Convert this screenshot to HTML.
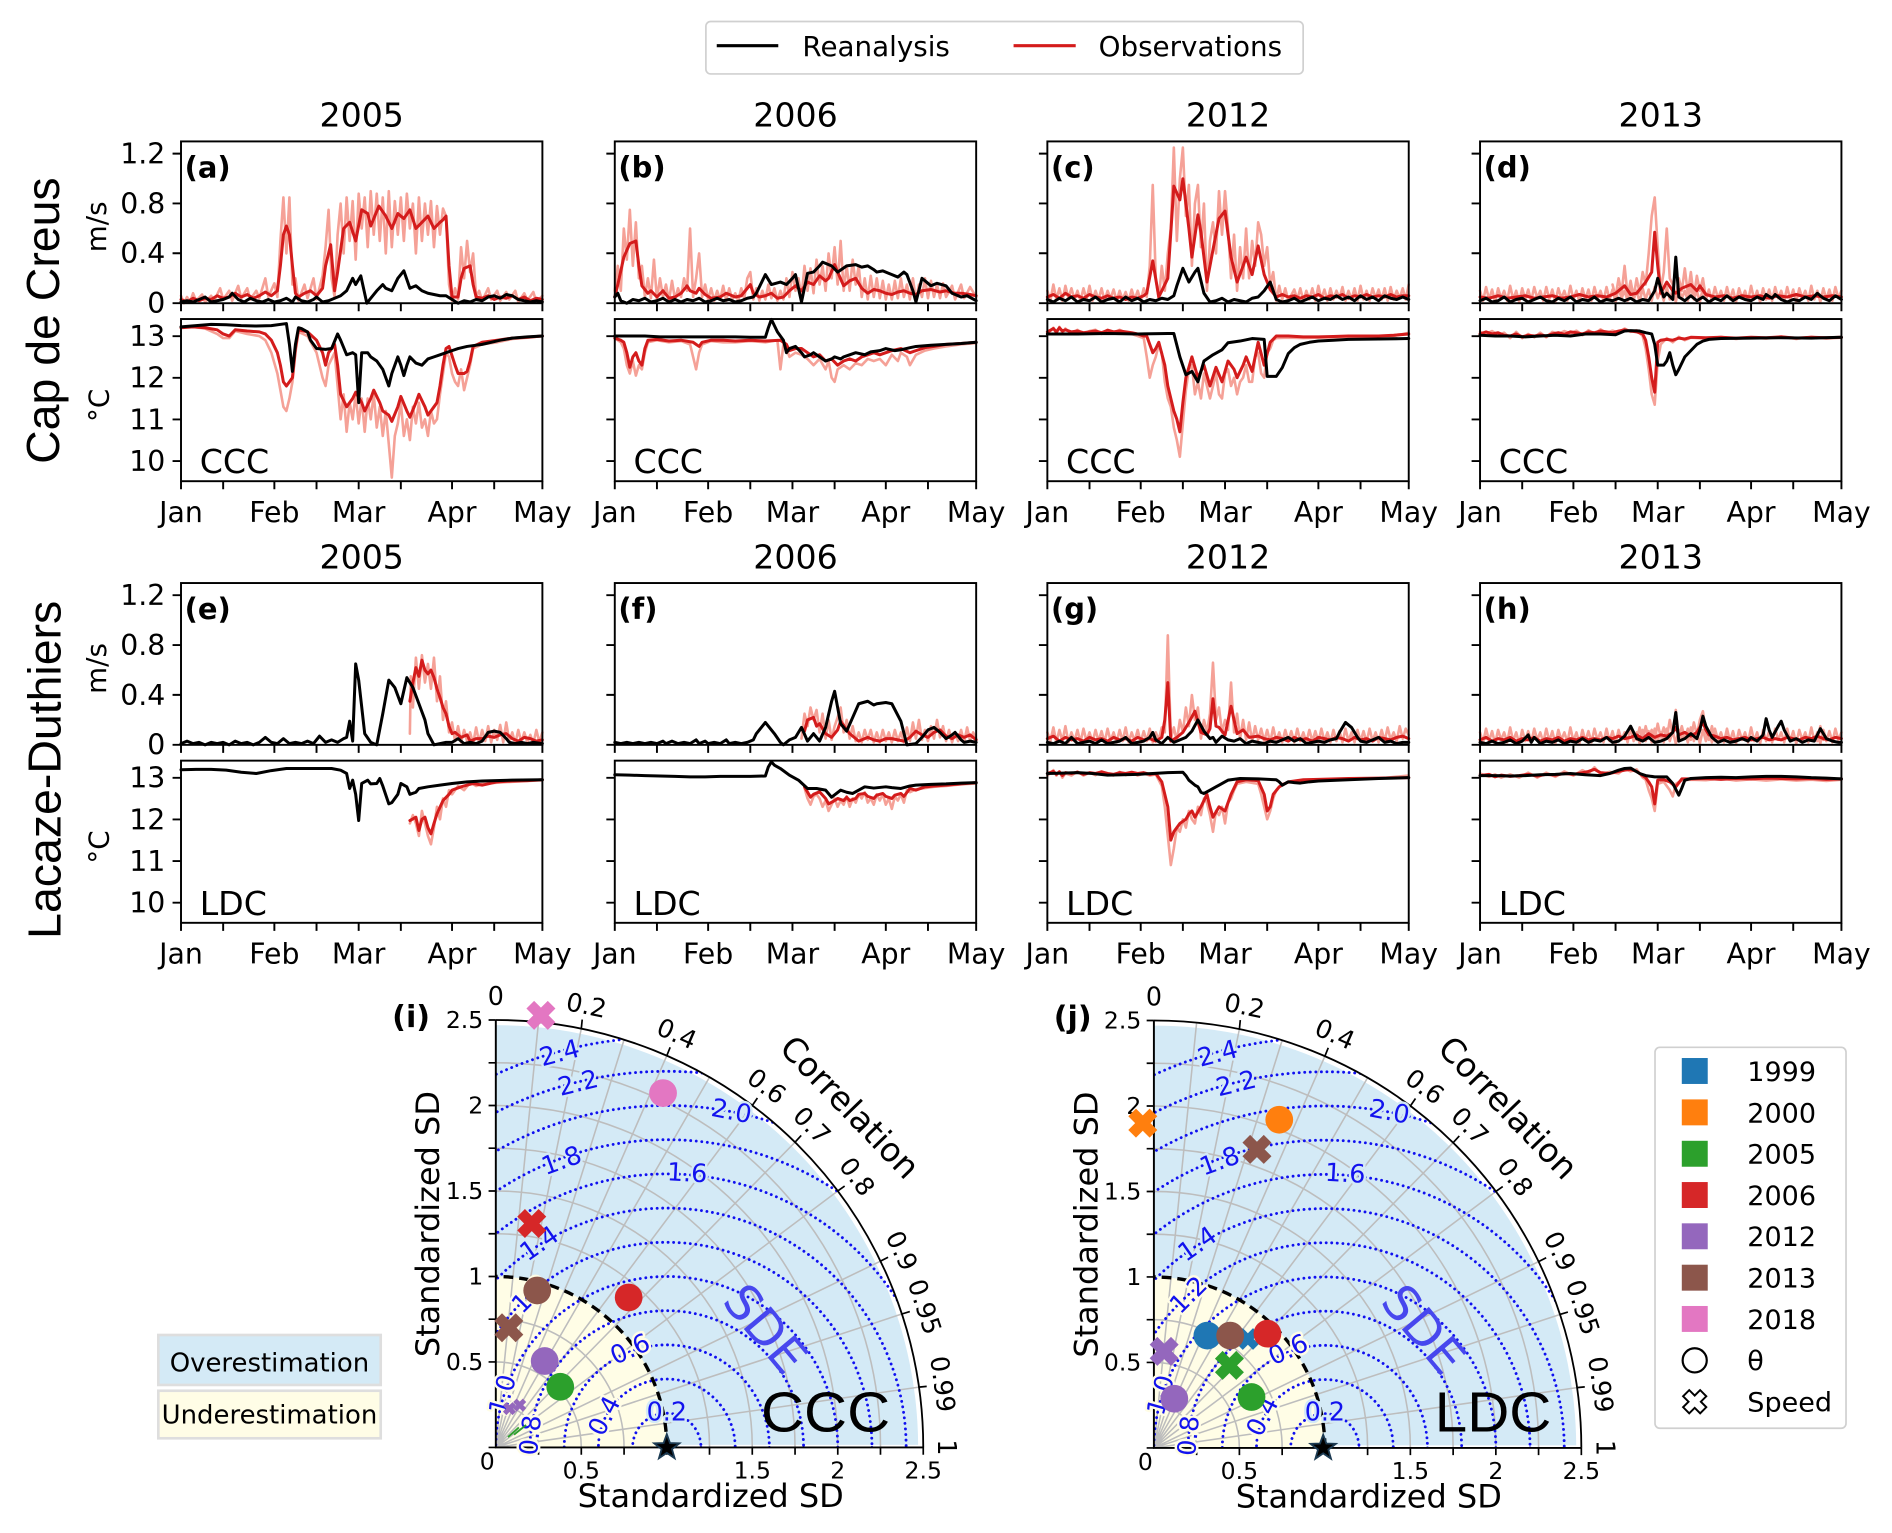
<!DOCTYPE html>
<html><head><meta charset="utf-8"><style>
html,body{margin:0;padding:0;background:#fff;width:1892px;height:1533px;overflow:hidden;position:relative}
svg{display:block;overflow:hidden;position:absolute;left:0;top:0}
polyline{fill:none;vector-effect:non-scaling-stroke;stroke-linejoin:round;stroke-linecap:round}
.lr{stroke:#f5a197;stroke-width:2.6}
.rd{stroke:#d41c1c;stroke-width:3}
.bk{stroke:#000;stroke-width:3}
text{font-family:"DejaVu Sans","Liberation Sans",sans-serif}
.hb{stroke:#d4eaf6;stroke-width:4;paint-order:stroke;stroke-linejoin:round}
.hy{stroke:#fffde6;stroke-width:4;paint-order:stroke;stroke-linejoin:round}
</style></head><body>
<svg xmlns="http://www.w3.org/2000/svg" width="1892" height="1533" viewBox="0 0 1568 1270.5">
<rect x="0" y="0" width="1568" height="1270.5" fill="#fff"/>
<defs>
<polyline id="nz" points="0,0.1 1,0.02 2,0.13 3,0.03 4,0.11 5,0.01 6,0.12 7,0.04 8,0.1 9,0.02 10,0.14 11,0.03 12,0.1 13,0.01 14,0.12 15,0.03 16,0.11 17,0.02 18,0.13 19,0.04 20,0.1 21,0.02 22,0.13 23,0.03 24,0.11 25,0.01 26,0.12 27,0.04 28,0.1 29,0.02 30,0.14 31,0.03 32,0.1 33,0.01 34,0.12 35,0.03 36,0.11 37,0.02 38,0.13 39,0.04 40,0.1 41,0.02 42,0.13 43,0.03 44,0.11 45,0.01 46,0.12 47,0.04 48,0.1 49,0.02 50,0.14 51,0.03 52,0.1 53,0.01 54,0.12 55,0.03 56,0.11 57,0.02 58,0.13 59,0.04 60,0.1 61,0.02 62,0.13 63,0.03 64,0.11 65,0.01 66,0.12 67,0.04 68,0.1 69,0.02 70,0.14 71,0.03 72,0.1 73,0.01 74,0.12 75,0.03 76,0.11 77,0.02 78,0.13 79,0.04 80,0.1 81,0.02 82,0.13 83,0.03 84,0.11 85,0.01 86,0.12 87,0.04 88,0.1 89,0.02 90,0.14 91,0.03 92,0.1 93,0.01 94,0.12 95,0.03 96,0.11 97,0.02 98,0.13 99,0.04 100,0.1 101,0.02 102,0.13 103,0.03 104,0.11 105,0.01 106,0.12 107,0.04 108,0.1 109,0.02 110,0.14 111,0.03 112,0.1 113,0.01 114,0.12 115,0.03 116,0.11 117,0.02 118,0.13 119,0.04 120,0.1"/>
<g id="tk" fill="none" stroke="#000" stroke-width="1.6">
<rect x="0" y="117.2" width="299.5" height="134.1"/>
<rect x="0" y="264.4" width="299.5" height="134.4"/>
<path d="M-7,127.3H0M-7,168.6H0M-7,209.9H0M-7,251.3H0M-7,278.6H0M-7,313.1H0M-7,347.6H0M-7,382.1H0M0,251.3V258M34.94,251.3V258M77.37,251.3V258M112.31,251.3V258M147.25,251.3V258M182.19,251.3V258M224.62,251.3V258M259.56,251.3V258M299.5,251.3V258M0,398.8V405.5M34.94,398.8V405.5M77.37,398.8V405.5M112.31,398.8V405.5M147.25,398.8V405.5M182.19,398.8V405.5M224.62,398.8V405.5M259.56,398.8V405.5M299.5,398.8V405.5"/>
</g>
<path id="xm" transform="rotate(45)" d="M4.5,12.5L4.5,4.5L12.5,4.5L12.5,-4.5L4.5,-4.5L4.5,-12.5L-4.5,-12.5L-4.5,-4.5L-12.5,-4.5L-12.5,4.5L-4.5,4.5L-4.5,12.5Z"/>
<path id="st" d="M0,-11L2.645,-3.64L10.46,-3.4L4.28,1.39L6.47,8.9L0,4.5L-6.47,8.9L-4.28,1.39L-10.46,-3.4L-2.645,-3.64Z"/>
<clipPath id="qc"><path d="M410.9,1199.6L765.15,1199.6A354.25,354.25 0 0 0 410.9,845.35Z"/></clipPath>
<g id="tbg">
<path d="M410.9,1197.5L760.9,1197.5A350,350 0 0 0 410.9,849.6Z" fill="#d4eaf6"/>
<path d="M410.9,1199.6L552.6,1199.6A141.7,141.7 0 0 0 410.9,1057.9Z" fill="#fffde6"/>
<g clip-path="url(#qc)" fill="none">
<g stroke="#bdbdbd" stroke-width="1.3">
<circle cx="410.9" cy="1199.6" r="35.43"/><circle cx="410.9" cy="1199.6" r="70.85"/><circle cx="410.9" cy="1199.6" r="106.28"/><circle cx="410.9" cy="1199.6" r="177.13"/><circle cx="410.9" cy="1199.6" r="212.55"/><circle cx="410.9" cy="1199.6" r="247.98"/><circle cx="410.9" cy="1199.6" r="283.4"/><circle cx="410.9" cy="1199.6" r="318.83"/>
<path d="M410.9,1199.6L446.3,847.1M410.9,1199.6L481.75,852.5M410.9,1199.6L517.2,861.7M410.9,1199.6L552.6,874.9M410.9,1199.6L588,892.8M410.9,1199.6L623.45,916.2M410.9,1199.6L658.9,946.6M410.9,1199.6L694.3,987.05M410.9,1199.6L729.7,1045.2M410.9,1199.6L747.4,1089M410.9,1199.6L761.6,1149.6"/>
</g>
<g stroke="#1010f0" stroke-width="2.4" stroke-dasharray="0.01 4.6" stroke-linecap="round">
<circle cx="552.6" cy="1199.6" r="28.34"/><circle cx="552.6" cy="1199.6" r="56.68"/><circle cx="552.6" cy="1199.6" r="85.02"/><circle cx="552.6" cy="1199.6" r="113.36"/><circle cx="552.6" cy="1199.6" r="141.7"/><circle cx="552.6" cy="1199.6" r="170.04"/><circle cx="552.6" cy="1199.6" r="198.38"/><circle cx="552.6" cy="1199.6" r="226.72"/><circle cx="552.6" cy="1199.6" r="255.06"/><circle cx="552.6" cy="1199.6" r="283.4"/><circle cx="552.6" cy="1199.6" r="311.74"/><circle cx="552.6" cy="1199.6" r="340.08"/>
</g>
</g>
<path d="M552.6,1199.6A141.7,141.7 0 0 0 410.9,1057.9" fill="none" stroke="#000" stroke-width="2.8" stroke-dasharray="8 5"/>
<path d="M765.15,1199.6A354.25,354.25 0 0 0 410.9,845.35" fill="none" stroke="#000" stroke-width="1.5"/>
<path d="M410.9,845.35V1199.6H765.15" fill="none" stroke="#000" stroke-width="1.6"/>
<path fill="none" stroke="#000" stroke-width="1.4" d="M404.9,1199.6H410.9M404.9,1164.2H410.9M404.9,1128.75H410.9M404.9,1093.3H410.9M404.9,1057.9H410.9M404.9,1022.5H410.9M404.9,987.05H410.9M404.9,951.6H410.9M404.9,916.2H410.9M404.9,880.8H410.9M404.9,845.35H410.9M446.3,1199.6V1205.6M481.75,1199.6V1205.6M517.2,1199.6V1205.6M552.6,1199.6V1205.6M588,1199.6V1205.6M623.45,1199.6V1205.6M658.9,1199.6V1205.6M694.3,1199.6V1205.6M729.7,1199.6V1205.6M765.15,1199.6V1205.6M481.75,852.5L482.5,845M552.6,874.9L555.4,868M623.45,916.2L627.7,910M658.9,946.6L664,941M694.3,987.05L700,983M729.7,1045.2L736,1042M747.4,1089L754,1087M761.6,1149.6L768,1149"/>
</g>
</defs>

<!-- top legend -->
<rect x="585" y="17.8" width="495" height="43.5" rx="4" fill="#fff" stroke="#d0d0d0" stroke-width="1.4"/>
<line x1="594" y1="37.9" x2="645" y2="37.9" stroke="#000" stroke-width="2.6"/>
<text x="665" y="46.5" font-size="23">Reanalysis</text>
<line x1="840" y1="37.9" x2="891.5" y2="37.9" stroke="#d41c1c" stroke-width="2.6"/>
<text x="910.5" y="46.5" font-size="23">Observations</text>

<!-- row labels -->
<text transform="translate(49,265.7) rotate(-90)" text-anchor="middle" font-size="38.5" style="font-family:'Liberation Sans',sans-serif">Cap de Creus</text>
<text transform="translate(50,638) rotate(-90)" text-anchor="middle" font-size="38.5" style="font-family:'Liberation Sans',sans-serif">Lacaze-Duthiers</text>
<text transform="translate(88,188) rotate(-90)" text-anchor="middle" font-size="23">m/s</text>
<text transform="translate(90,336) rotate(-90)" text-anchor="middle" font-size="23">°C</text>
<text transform="translate(88,554) rotate(-90)" text-anchor="middle" font-size="23">m/s</text>
<text transform="translate(90,702) rotate(-90)" text-anchor="middle" font-size="23">°C</text>

<!-- y tick labels col 0 -->
<g font-size="23.5" text-anchor="end">
<text x="137" y="135.5">1.2</text><text x="137" y="176.8">0.8</text><text x="137" y="218.1">0.4</text><text x="137" y="259.5">0</text>
<text x="137" y="286.8">13</text><text x="137" y="321.3">12</text><text x="137" y="355.8">11</text><text x="137" y="390.3">10</text>
<text x="137" y="501.5">1.2</text><text x="137" y="542.8">0.8</text><text x="137" y="584.1">0.4</text><text x="137" y="625.5">0</text>
<text x="137" y="652.8">13</text><text x="137" y="687.3">12</text><text x="137" y="721.8">11</text><text x="137" y="756.3">10</text>
</g>

<!-- ============ DATA ============ -->
<!-- (a) -->
<g transform="translate(150,251.3) scale(2.4958,-103.2)">
<polyline class="lr" points="0,0.06 1,0 2,0.05 3,0.01 4,0.08 5,0.02 7,0.07 8,0.01 10,0.06 11,0.02 13,0.12 14,0.03 16,0.1 17,0.02 19,0.14 20,0.04 22,0.12 23,0.03 25,0.1 26,0.04 28,0.2 29,0.05 31,0.16 32,0.05 33,0.5 34,0.85 35,0.4 36,0.85 37,0.15 38,0.2 39,0.02 41,0.15 42,0.04 44,0.2 45,0.03 47,0.22 48,0.45 49,0.75 50,0.2 51,0.05 52,0.55 53,0.8 54,0.4 55,0.85 56,0.5 57,0.82 58,0.35 59,0.88 60,0.6 61,0.85 62,0.45 63,0.9 64,0.55 65,0.88 66,0.5 67,0.85 68,0.4 69,0.9 70,0.45 71,0.82 72,0.55 73,0.85 74,0.5 75,0.88 76,0.6 77,0.8 78,0.4 79,0.85 80,0.5 81,0.8 82,0.55 83,0.82 84,0.45 85,0.78 86,0.55 87,0.76 88,0.7 89,0.15 90,0.02 91,0.12 92,0.03 93,0.45 94,0.2 95,0.5 96,0.25 97,0.4 98,0.05 99,0.1 100,0.02 102,0.12 103,0.03 105,0.1 106,0.02 108,0.09 109,0.03 111,0.1 112,0.01 114,0.08 115,0.02 117,0.09 118,0.01 120,0.06"/>
<polyline class="rd" points="0,0.03 2,0.01 4,0.04 6,0.02 8,0.04 10,0.03 12,0.06 14,0.04 16,0.05 18,0.08 20,0.05 22,0.07 24,0.04 26,0.06 28,0.09 30,0.06 32,0.1 33,0.3 34,0.55 35,0.62 36,0.55 37,0.3 38,0.08 39,0.05 41,0.08 43,0.1 45,0.06 47,0.12 48,0.3 49.7,0.47 51,0.1 52,0.25 54,0.6 56,0.65 58,0.5 60,0.75 62,0.72 63,0.62 65.7,0.78 68,0.7 70,0.6 72,0.72 74,0.68 76,0.75 78,0.6 80,0.65 82,0.7 84,0.6 86,0.65 87,0.67 88,0.7 89,0.3 90,0.05 92,0.05 93,0.2 94,0.28 96,0.3 97,0.15 98,0.05 100,0.04 102,0.06 104,0.03 106,0.05 108,0.04 110,0.06 112,0.03 114,0.05 116,0.02 118,0.04 120,0.03"/>
<polyline class="bk" points="0,0.01 2,0.02 4,0.01 6,0.03 8,0.05 10,0.01 12,0.02 14,0.03 16,0.05 17,0.08 19,0.03 21,0.01 23,0.04 25,0.02 27,0.01 29,0.03 31,0.01 33,0.02 35,0.04 37,0.01 38,0.05 40,0.02 42,0.01 44,0.03 45,0.05 47,0.01 49,0.02 51,0.04 53,0.06 55,0.1 57,0.2 58,0.15 59.7,0.22 61.7,0 63,0.04 65,0.1 67,0.15 68,0.12 70,0.1 72,0.2 74,0.26 76,0.12 78,0.14 80,0.1 82,0.08 84,0.07 86,0.06 88,0.06 90,0.03 92,0 94,0.02 96,0.01 98,0.03 100,0.02 102,0.05 104,0.06 106,0.04 108,0.07 110,0.06 112,0.03 114,0.02 116,0.01 118,0.02 120,0.01"/>
</g>
<g transform="translate(150,727) scale(2.4958,-34.5)">
<polyline class="lr" points="0,13.2 4,13.22 8,13.18 12,13.05 14,12.95 16,12.95 18,13.12 22,13.05 26,13 28,12.9 30,12.6 32,12.1 33,11.7 34,11.3 35,11.2 36,11.5 37,11.9 38,12.6 39,13.1 42,13 45,12.6 47,12 48,11.8 49,12.3 51,12.6 52,11.8 53,11 54,11.6 55,10.7 56,11.4 57,11 58,11.6 59,10.9 60,11.5 61,10.7 62,11.5 63,11 64,11.6 65,10.8 66,11.3 67,10.6 68,11.2 69,10.4 70,9.6 71,10.6 72,10.9 73,11.4 74,10.6 75,11 76,10.5 77,11.3 78,10.9 79,11.4 80,10.8 81,11 82,10.6 83,11.2 84,10.9 85,11 86,11.6 87,12.1 88,12.6 89,12.5 90,12.1 91,11.9 92,11.8 93,12.2 94,11.7 95,12 96,12.3 97,12.7 100,12.8 105,12.85 110,12.93 115,12.96 120,13"/>
<polyline class="rd" points="0,13.2 4,13.22 8,13.2 12,13.15 14,13.05 16,13 18,13.15 22,13.12 26,13.1 28,13.05 30,12.9 32,12.6 33,12.3 34,11.9 35,11.8 36,11.9 37,12 38,12.7 39,13.15 42,13.1 45,12.9 47,12.6 48,12.3 49,12.6 51,12.8 52,12.3 53,11.6 55,11.3 57,11.5 58,11.65 60,11.4 61,11.2 63,11.5 64,11.7 66,11.4 67,11.2 69,11.1 70,10.95 72,11.3 73,11.55 75,11.2 76,11.05 78,11.4 79,11.6 81,11.3 82,11.1 84,11.3 85,11.4 86,11.8 87,12.3 88,12.7 89,12.75 91,12.3 92,12.1 94,12.1 95,12.15 96,12.4 97,12.75 100,12.85 105,12.9 110,12.95 115,12.97 120,13"/>
<polyline class="bk" points="0,13.22 5,13.25 10,13.28 15,13.27 20,13.25 25,13.24 30,13.25 35,13.3 36,12.8 37,12.15 38,12.8 39,13.2 40,13.18 42,13.1 43,12.9 45,12.7 48,12.68 50,12.7 52,13.05 53,12.9 55,12.55 57,12.6 58,12.55 59,11.4 60,12.6 62,12.6 63,12.5 65,12.4 67,12.2 69,11.8 70,12.1 72,12.5 73,12.3 74,12.05 75,12.3 76,12.5 78,12.35 80,12.3 82,12.45 84,12.5 86,12.55 88,12.6 90,12.65 92,12.7 95,12.75 98,12.78 100,12.8 103,12.85 106,12.9 110,12.95 115,12.98 120,13"/>
</g>

<!-- (b) -->
<g transform="translate(509.5,251.3) scale(2.4958,-103.2)">
<polyline class="lr" points="0,0.1 1,0.3 2,0.1 3,0.6 4,0.35 5,0.75 6,0.3 7,0.65 8,0.2 9,0.3 10,0.05 11,0.2 12,0.04 13,0.35 14,0.03 15,0.2 16,0.05 17,0.15 18,0.02 19,0.18 20,0.03 21,0.12 22,0.05 23,0.2 24,0.1 25,0.6 26,0.05 27,0.2 28,0.4 29,0.05 30,0.15 31,0.03 32,0.12 33,0.02 34,0.1 35,0.03 36,0.14 37,0.02 38,0.12 39,0.03 40,0.08 41,0.02 42,0.12 43,0.04 44,0.2 45,0.25 46,0.03 47,0.12 48,0.02 49,0.1 50,0.03 51,0.15 52,0.04 53,0.12 54,0.02 55,0.1 56,0.03 57,0.2 58,0.05 59,0.25 60,0.1 61,0.2 62,0.05 63,0.3 64,0.1 65,0.28 66,0.08 67,0.35 68,0.15 69,0.3 70,0.1 71,0.4 72,0.2 73,0.45 74,0.15 75,0.5 76,0.1 77,0.3 78,0.1 79,0.35 80,0.15 81,0.3 82,0.05 83,0.2 84,0.03 85,0.22 86,0.05 87,0.2 88,0.04 89,0.18 90,0.03 91,0.15 92,0.03 93,0.18 94,0.04 95,0.2 96,0.05 97,0.15 98,0.03 99,0.2 100,0.02 101,0.15 102,0.05 103,0.2 104,0.04 105,0.18 106,0.05 107,0.15 108,0.04 109,0.16 110,0.05 112,0.14 113,0.03 115,0.15 116,0.04 118,0.13 120,0.05"/>
<polyline class="rd" points="0,0.05 1,0.15 3,0.37 5,0.48 7,0.5 8,0.3 9,0.14 11,0.08 12,0.1 14,0.05 16,0.1 18,0.04 20,0.05 22,0.08 24,0.14 25,0.1 27,0.08 28,0.12 30,0.07 32,0.04 35,0.05 37,0.08 40,0.05 42,0.06 45,0.15 46,0.08 48,0.05 50,0.06 52,0.08 54,0.04 56,0.05 58,0.1 60,0.14 62,0.1 64,0.17 66,0.15 68,0.22 70,0.18 71,0.2 73,0.31 74,0.25 76,0.14 78,0.18 80,0.2 82,0.12 84,0.08 86,0.11 88,0.1 90,0.08 92,0.07 94,0.09 96,0.1 98,0.08 100,0.07 102,0.1 105,0.11 108,0.09 110,0.1 113,0.08 115,0.08 118,0.07 120,0.06"/>
<polyline class="bk" points="0,0.05 1,0.08 2,0.02 4,0 6,0.03 8,0.02 10,0.04 12,0.01 14,0.02 16,0.04 18,0.01 20,0.03 22,0.01 24,0.03 26,0.02 28,0.04 30,0.01 32,0.02 34,0.04 36,0.02 38,0.03 40,0.01 42,0.02 44,0.04 46,0.05 47,0.08 49,0.18 50,0.23 52,0.15 55,0.17 57,0.15 59,0.2 60,0.23 62,0.01 64,0.24 66,0.25 68,0.3 69,0.33 72,0.3 74,0.25 77,0.3 80,0.31 82,0.29 84,0.3 86,0.27 87,0.25 89,0.26 91,0.24 94,0.21 96,0.25 97,0.23 99,0.1 100,0.01 102,0.2 105,0.14 107,0.16 110,0.14 112,0.08 115,0.05 117,0.06 120,0.02"/>
</g>
<g transform="translate(509.5,727) scale(2.4958,-34.5)">
<polyline class="lr" points="0,12.95 2,12.85 3,12.7 4,12.3 5,12.1 6,12.4 7,12.05 8,12.3 9,12.2 10,12.6 11,12.85 14,12.9 18,12.85 22,12.88 25,12.8 27,12.2 28,12.6 29,12.8 32,12.88 36,12.85 40,12.85 45,12.88 50,12.85 54,12.9 55,12.2 56,12.8 57,12.7 58,12.5 60,12.6 62,12.55 64,12.45 66,12.3 68,12.45 70,12.2 71,12.4 72,12 73,11.9 74,12.2 76,12.3 78,12.2 80,12.35 82,12.3 84,12.45 86,12.4 88,12.45 90,12.3 92,12.55 94,12.4 95,12.6 97,12.5 98,12.3 100,12.55 103,12.65 106,12.7 110,12.75 115,12.8 120,12.83"/>
<polyline class="rd" points="0,12.95 2,12.9 3,12.85 4,12.6 5,12.25 6,12.5 7,12.6 8,12.4 9,12.3 10,12.7 11,12.9 14,12.92 18,12.88 22,12.9 26,12.85 27,12.8 28,12.75 29,12.85 32,12.9 36,12.9 40,12.88 45,12.9 50,12.88 55,12.9 57,12.8 58,12.65 60,12.7 62,12.7 64,12.6 66,12.5 68,12.55 70,12.4 72,12.45 74,12.3 76,12.4 78,12.45 80,12.4 82,12.5 84,12.55 86,12.6 88,12.55 90,12.6 92,12.65 95,12.7 98,12.6 100,12.65 103,12.72 106,12.75 110,12.8 115,12.82 120,12.85"/>
<polyline class="bk" points="0,13 5,13 10,13 15,12.98 20,12.98 25,12.98 30,12.98 35,12.98 40,12.98 45,12.97 50,12.97 51,13.2 52,13.4 53,13.25 54,13.1 56,12.9 57,12.6 58,12.7 60,12.75 62,12.6 63,12.5 65,12.55 66,12.6 68,12.5 70,12.4 72,12.45 73,12.5 75,12.45 76,12.5 78,12.55 80,12.6 83,12.55 85,12.62 88,12.65 90,12.7 93,12.65 95,12.67 98,12.72 100,12.75 105,12.78 110,12.8 115,12.82 120,12.85"/>
</g>

<!-- (c) -->
<g transform="translate(868,251.3) scale(2.4958,-103.2)">
<polyline class="lr" points="0,0.1 1,0.02 2,0.15 3,0.03 4,0.12 5,0.02 6,0.14 7,0.04 8,0.12 9,0.03 10,0.1 11,0.02 12,0.12 13,0.03 14,0.14 15,0.02 16,0.1 17,0.03 18,0.12 19,0.02 20,0.1 21,0.04 22,0.11 23,0.02 24,0.1 25,0.03 26,0.09 27,0.02 28,0.11 29,0.03 30,0.1 31,0.02 32,0.12 33,0.05 34,0.3 35,0.95 36,0.2 37,0.03 38,0.3 39,0.1 40,0.4 41,0.6 42,1.25 43,0.5 44,1 45,1.25 46,0.7 47,0.95 48,0.3 49,0.8 50,0.95 51,0.45 52,0.8 53,0.1 54,0.5 55,0.65 56,0.4 57,0.9 58,0.55 59,0.9 60,0.6 61,0.2 62,0.55 63,0.1 64,0.45 65,0.2 66,0.6 67,0.2 68,0.5 69,0.3 70,0.65 71,0.55 72,0.3 73,0.45 74,0.15 75,0.25 76,0.02 77,0.14 78,0.03 79,0.12 80,0.02 82,0.11 83,0.03 84,0.12 85,0.02 86,0.1 87,0.03 88,0.12 89,0.02 90,0.14 91,0.03 92,0.11 93,0.02 94,0.12 95,0.03 96,0.1 97,0.04 98,0.13 99,0.02 100,0.1 101,0.03 102,0.12 103,0.02 104,0.14 105,0.03 106,0.1 107,0.02 108,0.12 109,0.04 110,0.11 111,0.03 112,0.12 113,0.02 114,0.13 115,0.03 116,0.1 117,0.04 118,0.12 119,0.03 120,0.15"/>
<polyline class="rd" points="0,0.05 2,0.07 4,0.04 6,0.08 8,0.05 10,0.06 12,0.04 14,0.07 16,0.05 18,0.04 20,0.06 22,0.04 24,0.05 26,0.03 28,0.05 30,0.04 32,0.06 33,0.08 35,0.34 37,0.05 39,0.15 40,0.2 42,0.94 44,0.83 45,1 47,0.6 48,0.37 50,0.71 51,0.57 53,0.17 55,0.43 57,0.68 59,0.74 61,0.37 63,0.17 65,0.3 66,0.37 68,0.23 70,0.46 72,0.23 74,0.11 76,0.05 78,0.07 80,0.05 82,0.06 84,0.04 86,0.06 88,0.05 90,0.07 92,0.04 94,0.06 96,0.05 98,0.07 100,0.04 102,0.06 104,0.05 106,0.07 108,0.05 110,0.06 112,0.05 114,0.07 116,0.05 118,0.06 120,0.06"/>
<polyline class="bk" points="0,0.03 2,0.01 4,0.04 6,0.02 8,0.05 10,0.01 12,0.03 14,0.02 16,0.05 18,0.01 20,0.03 22,0.04 24,0.01 26,0.05 28,0.02 30,0.04 32,0.01 34,0.03 36,0.02 38,0.04 40,0.03 42,0.06 43,0.14 45,0.28 47,0.17 49,0.25 50,0.28 52,0.08 54,0.01 56,0.02 58,0.04 60,0.01 62,0.03 64,0.02 66,0.01 68,0.04 70,0.05 72,0.1 74,0.17 76,0.03 78,0.01 80,0.02 82,0.04 84,0.01 86,0.03 88,0.05 90,0.02 92,0.04 94,0.03 96,0.06 98,0.03 100,0.05 102,0.02 104,0.06 106,0.03 108,0.05 110,0.02 112,0.06 114,0.04 116,0.03 118,0.05 120,0.03"/>
</g>
<g transform="translate(868,727) scale(2.4958,-34.5)">
<polyline class="lr" points="0,13.05 2,13.2 3,13.05 4,13.22 5,13.08 6,13.18 8,13.05 10,13.15 12,13.05 14,13.12 16,13.15 18,13.05 20,13.15 22,13.08 24,13.15 26,13.08 28,13.05 30,13 32,12.95 33,12.5 34,12 35,12.3 36,12.5 37,12.8 38,12.6 39,11.9 40,11.5 41,11.3 42,10.8 43,10.5 44,10.1 45,10.9 46,11.7 47,12.2 48,12.3 49,11.6 50,11.9 51,11.5 52,12.1 53,11.8 54,11.5 55,11.8 56,12.1 57,11.6 58,11.5 59,12.1 60,12.2 61,11.8 62,12 63,11.6 64,11.9 65,12 66,12.3 67,11.9 68,11.9 69,12.5 70,12.6 71,12.1 72,12 73,12.6 74,12.7 75,12.9 76,12.95 80,12.96 85,12.95 90,12.96 95,12.97 100,12.98 110,12.99 115,13 120,13.08"/>
<polyline class="rd" points="0,13.1 2,13.18 3,13.1 4,13.2 5,13.12 6,13.15 8,13.1 10,13.12 12,13.08 14,13.1 16,13.12 18,13.08 20,13.14 22,13.1 24,13.12 26,13.1 28,13.08 30,13.05 32,13 33,13 35,12.6 36,12.7 37,12.85 39,12.3 40,11.8 42,11.2 43,11 44,10.7 45,11.4 46,12 48,12.5 50,12 52,12.3 54,11.8 56,12.25 58,11.9 60,12.4 62,12.2 63,12 65,12.3 66,12.5 68,12.15 70,12.85 72,12.3 74,12.85 76,13 80,13 85,12.98 90,12.98 95,12.99 100,13 110,13 115,13.02 120,13.05"/>
<polyline class="bk" points="0,13.05 10,13.05 20,13.06 30,13.05 40,13.06 42,13.06 44,12.5 46,12.07 48,12.15 50,11.9 52,12.4 55,12.55 58,12.67 60,12.84 64,12.88 68,12.94 72,12.92 73,12.03 76,12.03 78,12.24 80,12.58 82,12.72 84,12.8 87,12.85 90,12.88 95,12.9 100,12.92 110,12.93 120,12.94"/>
</g>

<!-- (d) -->
<g transform="translate(1226.6,251.3) scale(2.4958,-103.2)">
<use href="#nz" class="lr"/>
<polyline class="lr" points="44,0.15 45,0.05 46,0.2 47,0.08 48,0.3 49,0.06 50,0.18 51,0.05 52,0.2 53,0.08 54,0.25 55,0.15 56,0.4 57,0.7 58,0.85 59,0.45 60,0.1 61,0.25 62,0.6 63,0.2 64,0.15 65,0.05 66,0.2 67,0.1 68,0.28 69,0.08 70,0.25 71,0.05 72,0.22 73,0.1 74,0.2 75,0.04"/>
<polyline class="rd" points="0,0.05 3,0.04 6,0.06 9,0.04 12,0.05 15,0.06 18,0.04 21,0.05 24,0.06 27,0.04 30,0.05 33,0.07 36,0.05 39,0.06 42,0.05 45,0.08 48,0.14 50,0.07 52,0.08 55,0.17 57,0.25 58,0.57 59,0.3 60,0.08 62,0.17 64,0.1 65,0.08 67,0.12 70,0.15 72,0.1 73,0.14 75,0.07 78,0.05 81,0.06 84,0.04 87,0.06 90,0.05 93,0.06 96,0.04 99,0.06 102,0.05 105,0.07 108,0.05 111,0.06 114,0.05 117,0.06 120,0.05"/>
<polyline class="bk" points="0,0.02 2,0.04 4,0.01 6,0.02 8,0.05 10,0.01 12,0.03 14,0.04 16,0.01 18,0.03 20,0.05 22,0.02 24,0.01 26,0.04 28,0.02 30,0.05 32,0.01 34,0.03 36,0.02 38,0.05 40,0.01 42,0.03 44,0.02 46,0.04 48,0.02 50,0.04 52,0.01 54,0.03 56,0.02 58,0.1 59,0.2 61,0.05 62,0.08 64,0.03 65,0.37 66,0.05 68,0.02 70,0.06 72,0.02 74,0.05 76,0.01 78,0.04 80,0.02 82,0.06 84,0.02 86,0.05 88,0.03 90,0.02 92,0.05 94,0.03 95,0.07 97,0.04 98,0.07 100,0.03 102,0.01 104,0.03 106,0.02 108,0.05 110,0.03 112,0.08 114,0.04 116,0.02 118,0.06 120,0.03"/>
</g>
<g transform="translate(1226.6,727) scale(2.4958,-34.5)">
<polyline class="lr" points="0,13.1 2,13.05 4,13.12 6,13.02 8,13.08 10,12.95 12,13.1 14,12.95 16,13.05 18,12.97 20,13.08 22,12.97 24,13.1 26,13.05 28,13.12 30,13.06 32,13.13 34,13.02 36,13.14 38,13.05 40,13.16 42,13.07 44,13.13 46,13.08 48,13.18 50,13.1 52,13.14 54,13 55,12.7 56,12.2 57,11.6 58,11.35 59,12.4 60,12.8 62,12.95 64,12.85 66,12.98 68,12.9 70,12.96 75,12.94 80,12.98 85,12.93 90,12.97 95,12.94 100,12.99 105,12.93 110,12.98 115,12.94 120,12.96"/>
<polyline class="rd" points="0,13.05 2,13.1 4,13.05 6,13.08 8,13.02 10,13 12,13.05 14,12.98 16,13.02 18,13 20,13.03 22,13 24,13.05 26,13.08 28,13.04 30,13.1 32,13.08 34,13.05 36,13.1 38,13.08 40,13.12 42,13.1 44,13.08 46,13.12 48,13.15 50,13.12 52,13.1 54,13.05 55,12.9 56,12.5 57,12 58,11.65 59,12.85 60,12.9 62,12.92 64,12.9 66,12.95 68,12.93 70,12.97 75,12.96 80,12.97 85,12.95 90,12.97 95,12.96 100,12.98 105,12.95 110,12.97 115,12.96 120,12.97"/>
<polyline class="bk" points="0,13.02 5,13 10,13 15,12.98 20,13 25,13.02 30,13 35,13.05 40,13.05 45,13.03 48,13.12 50,13.13 53,13.12 55,13.08 57,13.05 58,12.8 59,12.3 61,12.3 62,12.4 63,12.6 64,12.3 65,12.07 66,12.2 68,12.5 70,12.65 72,12.8 74,12.88 76,12.92 80,12.94 90,12.95 100,12.96 110,12.95 120,12.97"/>
</g>

<!-- (e) -->
<g transform="translate(150,617.3) scale(2.4958,-103.2)">
<polyline class="lr" points="76,0.09 76.3,0.55 77,0.3 78,0.7 79,0.45 80,0.72 81,0.5 82,0.65 83,0.45 84,0.7 85,0.35 86,0.55 87,0.2 88,0.35 89,0.1 90,0.18 91,0.03 92,0.15 93,0.02 94,0.12 95,0.03 96,0.1 97,0.01 98,0.14 99,0.02 100,0.12 101,0.03 102,0.15 103,0.02 104,0.12 105,0.04 106,0.16 107,0.02 108,0.18 109,0.03 110,0.1 111,0.01 112,0.12 113,0.02 114,0.1 115,0.02 116,0.08 117,0.01 118,0.12 119,0.02 120,0.1"/>
<polyline class="rd" points="76,0.35 77,0.5 78,0.62 79,0.55 80,0.68 81,0.6 82,0.57 83,0.6 84,0.54 85,0.45 86,0.38 87,0.3 88,0.25 89,0.15 90,0.09 91,0.1 93,0.06 95,0.08 96,0.03 98,0.05 100,0.05 102,0.07 104,0.06 106,0.08 108,0.09 110,0.05 112,0.03 114,0.06 116,0.05 118,0.03 120,0.04"/>
<polyline class="bk" points="0,0.01 2,0.03 4,0.01 6,0.02 8,0 10,0.02 12,0.01 14,0.02 16,0 18,0.03 20,0.01 22,0.02 24,0 26,0.02 28,0.06 30,0.02 32,0.01 34,0.05 36,0.01 38,0.02 40,0.01 42,0.03 44,0.01 46,0.07 48,0.02 50,0.04 52,0.02 54,0.05 55,0.06 56,0.19 57,0.03 58,0.65 59,0.52 61,0.09 63,0.02 65,0 67,0.25 69,0.52 71,0.46 73,0.33 75,0.54 77,0.46 79,0.33 81,0.2 82,0.09 84,0 86,0.01 88,0.02 90,0.02 92,0.05 94,0.01 96,0.02 98,0.01 100,0.03 102,0.1 104,0.11 106,0.1 108,0.05 109,0.02 111,0.01 113,0.02 115,0.01 117,0.02 120,0.01"/>
</g>
<g transform="translate(150,1093) scale(2.4958,-34.5)">
<polyline class="lr" points="76,11.9 77,12.1 78,11.9 79,11.6 80,12.2 81,11.9 82,11.6 83,11.4 84,11.8 85,12.3 86,12 87,12.5 88,12.3 89,12.7 90,12.6 92,12.8 94,12.7 96,12.88 98,12.8 100,12.85 105,12.88 110,12.9 120,12.94"/>
<polyline class="rd" points="76,11.97 78,12.05 79,11.73 80,12 81,12.05 82,11.8 83,11.65 84,11.9 85,12.13 87,12.45 89,12.6 90,12.7 93,12.78 97,12.86 100,12.82 105,12.9 110,12.92 115,12.93 120,12.95"/>
<polyline class="bk" points="0,13.19 5,13.2 10,13.2 15,13.18 20,13.13 25,13.1 30,13.17 35,13.22 40,13.22 45,13.22 50,13.22 53,13.18 55,13.1 56,12.74 57,12.94 58,12.6 59,11.97 60,12.86 62,12.94 63,12.85 65,12.86 66,12.98 67,12.8 69,12.37 70,12.4 72,12.6 73,12.86 75,12.78 76,12.6 78,12.65 79,12.74 82,12.78 86,12.82 90,12.86 95,12.9 100,12.92 110,12.94 120,12.95"/>
</g>

<!-- (f) -->
<g transform="translate(509.5,617.3) scale(2.4958,-103.2)">
<polyline class="lr" points="62,0.05 63,0.25 64,0.15 65,0.3 66,0.2 67,0.28 68,0.1 69,0.25 70,0.05 71,0.2 72,0.04 73,0.15 74,0.22 75,0.3 76,0.1 77,0.2 78,0.05 79,0.15 80,0.03 81,0.1 82,0.02 83,0.12 84,0.04 85,0.12 86,0.02 87,0.1 88,0.02 89,0.12 90,0.03 91,0.1 92,0.02 93,0.12 94,0.03 95,0.1 96,0.02 97,0.14 98,0.03 99,0.18 100,0.05 101,0.2 102,0.04 103,0.12 104,0.03 105,0.15 106,0.05 107,0.2 108,0.06 109,0.15 110,0.03 111,0.12 112,0.02 113,0.1 114,0.03 115,0.12 116,0.02 117,0.14 118,0.03 119,0.1 120,0.05"/>
<polyline class="rd" points="63,0.11 64,0.2 66,0.22 67,0.15 68,0.17 70,0.09 72,0.06 74,0.12 75,0.19 77,0.12 78,0.09 80,0.05 81,0.03 84,0.06 86,0.04 88,0.03 90,0.05 92,0.05 94,0.04 96,0.03 98,0.06 100,0.11 102,0.08 104,0.06 106,0.1 108,0.12 110,0.07 112,0.05 114,0.08 116,0.06 118,0.08 120,0.04"/>
<polyline class="bk" points="0,0.02 2,0.01 4,0.02 6,0.01 8,0.02 10,0.01 12,0.02 14,0.01 16,0.03 17,0.01 19,0.03 21,0.01 23,0.02 25,0.01 27,0.04 28,0.01 30,0.03 31,0.01 33,0.02 35,0.01 37,0.04 38,0.01 40,0.02 42,0.01 44,0.02 46,0.04 47,0.09 50,0.18 53,0.09 55,0.02 56,0 58,0.04 60,0.06 62,0.14 64,0.03 66,0.09 68,0.03 70,0.14 72,0.35 73,0.43 74,0.3 75,0.17 77,0.11 79,0.22 81,0.33 84,0.35 86,0.32 87,0.33 90,0.34 92,0.33 95,0.19 97,0 100,0.01 102,0.06 104,0.12 106,0.14 108,0.1 110,0.05 112,0.08 113,0.1 115,0.04 116,0.02 118,0.03 120,0.02"/>
</g>
<g transform="translate(509.5,1093) scale(2.4958,-34.5)">
<polyline class="lr" points="63,12.75 64,12.5 65,12.35 66,12.55 67,12.6 68,12.5 69,12.3 70,12.45 71,12.2 72,12.35 73,12.5 74,12.3 75,12.45 76,12.35 77,12.55 78,12.3 79,12.5 80,12.4 81,12.6 82,12.5 83,12.65 84,12.4 85,12.5 86,12.35 87,12.6 88,12.45 89,12.6 90,12.35 91,12.5 92,12.25 93,12.55 94,12.45 95,12.6 96,12.4 97,12.7 98,12.65 100,12.72 103,12.75 106,12.78 110,12.8 115,12.84 120,12.86"/>
<polyline class="rd" points="63,12.78 65,12.53 66,12.6 68,12.66 70,12.5 71,12.37 73,12.45 74,12.5 76,12.45 77,12.53 78,12.45 80,12.5 81,12.6 83,12.62 84,12.55 86,12.5 87,12.58 89,12.62 90,12.55 92,12.5 93,12.58 95,12.62 96,12.55 98,12.74 100,12.7 103,12.78 106,12.8 110,12.82 115,12.85 120,12.88"/>
<polyline class="bk" points="0,13.07 5,13.06 10,13.05 15,13.04 20,13.03 25,13.02 30,13.02 35,13.03 40,13.03 45,13.03 50,13.04 51,13.26 52,13.38 53,13.3 55,13.22 58,13.06 61,12.94 64,12.74 67,12.74 70,12.7 72,12.53 75,12.7 77,12.65 79,12.62 83,12.78 86,12.75 90,12.78 92,12.76 95,12.74 98,12.8 100,12.82 105,12.84 110,12.85 115,12.87 120,12.88"/>
</g>

<!-- (g) -->
<g transform="translate(868,617.3) scale(2.4958,-103.2)">
<polyline class="lr" points="0,0.1 1,0.03 2,0.14 3,0.02 4,0.12 5,0.03 6,0.15 7,0.02 8,0.1 9,0.03 10,0.12 11,0.02 12,0.13 13,0.03 14,0.1 15,0.02 16,0.12 17,0.03 18,0.11 19,0.02 20,0.13 21,0.03 22,0.1 23,0.02 24,0.12 25,0.03 26,0.14 27,0.02 28,0.1 29,0.03 30,0.12 31,0.02 32,0.11 33,0.03 34,0.13 35,0.02 36,0.1 37,0.04 38,0.14 39,0.1 40,0.88 41,0.05 42,0.14 43,0.03 44,0.2 45,0.1 46,0.3 47,0.15 48,0.4 49,0.2 50,0.3 51,0.05 52,0.2 53,0.1 54,0.25 55,0.66 56,0.2 57,0.3 58,0.1 59,0.2 60,0.12 61,0.5 62,0.1 63,0.25 64,0.05 65,0.2 66,0.04 67,0.18 68,0.03 69,0.15 70,0.04 71,0.13 72,0.03 73,0.12 74,0.02 75,0.14 76,0.03 77,0.1 78,0.02 79,0.12 80,0.03 81,0.11 82,0.02 83,0.13 84,0.03 85,0.1 86,0.02 87,0.12 88,0.03 89,0.11 90,0.02 91,0.13 92,0.03 93,0.1 94,0.02 95,0.12 96,0.03 97,0.11 98,0.02 99,0.13 100,0.03 101,0.1 102,0.02 103,0.12 104,0.03 105,0.11 106,0.02 107,0.13 108,0.03 109,0.1 110,0.02 111,0.12 112,0.03 113,0.14 114,0.04 115,0.1 116,0.03 117,0.15 118,0.05 119,0.13 120,0.08"/>
<polyline class="rd" points="0,0.05 2,0.07 4,0.03 6,0.06 8,0.04 10,0.05 12,0.03 14,0.06 16,0.04 18,0.05 20,0.03 22,0.06 24,0.04 26,0.05 28,0.03 30,0.06 32,0.04 34,0.05 36,0.03 38,0.06 39,0.2 40,0.5 41,0.03 43,0.06 45,0.1 47,0.18 49,0.27 51,0.1 53,0.08 54,0.13 55,0.37 56,0.15 57,0.14 59,0.08 61,0.31 63,0.09 65,0.12 67,0.06 70,0.07 72,0.05 74,0.04 76,0.06 78,0.05 80,0.03 82,0.06 84,0.04 86,0.05 88,0.03 90,0.06 92,0.05 94,0.04 96,0.06 98,0.05 100,0.03 102,0.06 104,0.04 106,0.05 108,0.03 110,0.06 112,0.05 114,0.04 116,0.06 118,0.07 120,0.05"/>
<polyline class="bk" points="0,0.02 2,0.01 4,0.03 6,0.01 8,0.06 10,0.01 12,0.02 14,0.03 16,0.01 18,0.04 20,0.01 22,0.02 24,0.03 26,0.06 28,0.01 30,0.02 32,0.03 34,0.06 35,0.1 36,0.04 38,0.01 40,0.06 42,0.02 44,0.04 46,0.06 48,0.11 50,0.2 52,0.11 54,0.05 55,0.06 56,0.02 58,0.07 60,0.04 62,0.03 64,0.05 66,0.01 68,0.03 70,0.02 72,0.01 74,0.03 76,0.02 78,0.04 80,0.06 82,0.03 84,0.05 86,0.01 88,0.02 90,0.03 92,0.02 94,0.04 96,0.05 97,0.1 98,0.14 99,0.18 100,0.16 101,0.14 103,0.06 104,0.03 106,0.02 108,0.04 110,0.06 112,0.02 114,0.03 116,0.01 118,0.02 120,0.02"/>
</g>
<g transform="translate(868,1093) scale(2.4958,-34.5)">
<polyline class="lr" points="0,13.05 2,13.18 3,13.05 4,13.15 5,13 6,13.1 8,13.05 10,13.15 12,13.05 14,13.12 16,13.06 18,13.15 20,13.08 22,13.05 24,13.14 26,13.06 28,13.12 30,13.05 32,13.1 34,13.05 36,13.08 38,12.8 39,12.3 40,11.6 41,10.9 42,11.3 43,11.8 44,11.7 45,12 46,11.8 47,12.2 48,12 49,11.9 50,12.3 51,12.1 52,12.5 53,12.4 54,12.1 55,11.7 56,12.2 57,12.1 58,12.3 59,11.9 60,12.4 61,12.5 62,12.7 63,12.85 66,12.9 70,12.85 71,12.6 72,12.3 73,12 74,12.2 75,12.5 76,12.7 78,12.85 80,12.88 85,12.92 90,12.94 100,12.96 110,12.98 120,13.05"/>
<polyline class="rd" points="0,13.1 2,13.15 3,13.08 4,13.14 5,13.05 6,13.12 8,13.1 10,13.13 12,13.08 14,13.12 16,13.1 18,13.14 20,13.1 22,13.08 24,13.12 26,13.1 28,13.13 30,13.1 32,13.12 34,13.08 36,13.1 38,12.9 40,12.3 41,11.5 42,11.7 44,11.9 46,12 47,12.13 48,12.2 49,12.05 51,12.3 53,12.6 54,12.3 55,12.05 57,12.3 59,12.2 61,12.6 62,12.75 63,12.9 66,12.95 70,12.93 72,12.6 73,12.2 74,12.3 75,12.6 77,12.78 80,12.9 85,12.95 90,12.96 100,12.98 110,12.99 120,13"/>
<polyline class="bk" points="0,13.1 5,13.11 10,13.12 15,13.1 20,13.06 25,13.07 30,13.08 35,13.1 40,13.12 45,13.13 46,13.05 47,12.94 49,12.82 50,12.78 51,12.65 52,12.62 54,12.7 56,12.78 57,12.82 59,12.9 60,12.94 64,12.98 70,12.97 76,12.95 77,12.9 78,12.82 80,12.9 82,12.88 84,12.87 87,12.9 90,12.92 100,12.95 110,12.98 120,13"/>
</g>

<!-- (h) -->
<g transform="translate(1226.6,617.3) scale(2.4958,-103.2)">
<use href="#nz" class="lr"/>
<polyline class="lr" points="52,0.04 53,0.14 54,0.03 55,0.15 56,0.05 57,0.12 58,0.04 59,0.17 60,0.06 61,0.14 62,0.05 63,0.2 64,0.08 65,0.28 66,0.06 67,0.15 68,0.05 69,0.13 70,0.04 71,0.18 72,0.08 73,0.2 74,0.27 75,0.1 76,0.04 77,0.15 78,0.03"/>
<polyline class="lr" points="112,0.03 113,0.15 114,0.04"/>
<polyline class="rd" points="0,0.04 2,0.06 4,0.03 6,0.05 8,0.04 10,0.06 12,0.03 14,0.05 16,0.04 18,0.06 20,0.03 22,0.05 24,0.04 26,0.06 28,0.03 30,0.05 32,0.04 34,0.06 36,0.04 38,0.05 40,0.04 42,0.06 44,0.05 46,0.07 48,0.05 50,0.06 52,0.08 54,0.05 56,0.09 58,0.06 60,0.08 62,0.07 64,0.1 65,0.14 66,0.08 68,0.1 70,0.07 72,0.1 74,0.18 75,0.12 76,0.08 78,0.07 80,0.05 82,0.06 84,0.04 86,0.05 88,0.06 90,0.04 92,0.05 94,0.06 96,0.04 98,0.05 100,0.04 102,0.06 104,0.05 106,0.04 108,0.06 110,0.05 112,0.07 114,0.05 116,0.04 118,0.06 120,0.05"/>
<polyline class="bk" points="0,0.02 2,0.01 4,0.03 6,0.01 8,0.02 10,0.04 12,0.01 14,0.03 16,0.08 17,0.02 18,0.06 20,0.01 22,0.03 24,0.02 26,0.04 28,0.01 30,0.03 32,0.02 34,0.05 36,0.02 38,0.04 40,0.03 42,0.06 44,0.02 46,0.03 48,0.07 50,0.15 52,0.05 54,0.03 56,0.06 58,0.02 60,0.03 62,0.05 64,0.1 65,0.26 66,0.03 68,0.05 70,0.09 72,0.05 73,0.12 74,0.23 75,0.15 77,0.06 79,0.02 81,0.04 83,0.02 85,0.03 87,0.05 89,0.03 90,0.06 92,0.03 94,0.08 95,0.21 96,0.12 97,0.06 99,0.15 100,0.19 101,0.12 103,0.03 105,0.05 107,0.02 109,0.04 111,0.03 113,0.13 115,0.05 117,0.03 119,0.02 120,0.02"/>
</g>
<g transform="translate(1226.6,1093) scale(2.4958,-34.5)">
<polyline class="lr" points="0,13.1 3,13.02 5,13.08 7,13 10,13.08 13,13 16,13.12 19,13 22,13.12 25,13.02 28,13.15 31,13.05 34,13.18 36,13.1 38,13.25 40,13.08 43,13.14 46,13.1 48,13.22 50,13.15 52,13.2 54,13 55,12.95 56,12.7 57,12.5 58,12.2 59,12.85 61,12.9 63,12.7 64,12.55 65,12.85 67,12.94 70,12.95 75,12.94 80,12.98 85,12.93 90,12.96 95,12.93 100,12.96 105,12.93 110,12.95 115,12.92 120,12.95"/>
<polyline class="rd" points="0,13.05 3,13.08 5,13.02 7,13.06 10,13.03 13,13.05 16,13.08 19,13.04 22,13.08 25,13.06 28,13.1 31,13.08 34,13.12 36,13.15 38,13.2 40,13.12 43,13.1 46,13.15 48,13.18 50,13.2 52,13.15 54,13.05 55,13 56,12.9 57,12.78 58,12.37 59,12.94 61,12.95 63,12.9 65,12.78 67,12.97 70,12.97 75,12.98 80,12.96 85,12.98 90,12.97 95,12.99 100,12.98 105,12.97 110,12.98 115,12.96 120,12.97"/>
<polyline class="bk" points="0,13.05 5,13.05 10,13.04 15,13.05 20,13.07 25,13.08 30,13.1 35,13.07 40,13.05 43,13.1 46,13.18 48,13.22 50,13.23 53,13.1 55,13.05 58,13.02 62,13.02 64,12.86 66,12.58 67,12.75 68,12.94 70,12.98 75,13 80,13.01 85,13 90,13.02 95,13.03 100,13.03 105,13.02 110,13 115,12.99 120,12.97"/>
</g>

<!-- frames & ticks -->
<use href="#tk" x="150" y="0"/><use href="#tk" x="509.5" y="0"/><use href="#tk" x="868" y="0"/><use href="#tk" x="1226.6" y="0"/>
<use href="#tk" x="150" y="366"/><use href="#tk" x="509.5" y="366"/><use href="#tk" x="868" y="366"/><use href="#tk" x="1226.6" y="366"/>

<!-- panel texts -->
<g font-size="23.5" text-anchor="middle">
<g transform="translate(150,0)"><text x="0" y="432.5">Jan</text><text x="77.37" y="432.5">Feb</text><text x="147.25" y="432.5">Mar</text><text x="224.62" y="432.5">Apr</text><text x="299.5" y="432.5">May</text><text x="0" y="798.5">Jan</text><text x="77.37" y="798.5">Feb</text><text x="147.25" y="798.5">Mar</text><text x="224.62" y="798.5">Apr</text><text x="299.5" y="798.5">May</text></g>
<g transform="translate(509.5,0)"><text x="0" y="432.5">Jan</text><text x="77.37" y="432.5">Feb</text><text x="147.25" y="432.5">Mar</text><text x="224.62" y="432.5">Apr</text><text x="299.5" y="432.5">May</text><text x="0" y="798.5">Jan</text><text x="77.37" y="798.5">Feb</text><text x="147.25" y="798.5">Mar</text><text x="224.62" y="798.5">Apr</text><text x="299.5" y="798.5">May</text></g>
<g transform="translate(868,0)"><text x="0" y="432.5">Jan</text><text x="77.37" y="432.5">Feb</text><text x="147.25" y="432.5">Mar</text><text x="224.62" y="432.5">Apr</text><text x="299.5" y="432.5">May</text><text x="0" y="798.5">Jan</text><text x="77.37" y="798.5">Feb</text><text x="147.25" y="798.5">Mar</text><text x="224.62" y="798.5">Apr</text><text x="299.5" y="798.5">May</text></g>
<g transform="translate(1226.6,0)"><text x="0" y="432.5">Jan</text><text x="77.37" y="432.5">Feb</text><text x="147.25" y="432.5">Mar</text><text x="224.62" y="432.5">Apr</text><text x="299.5" y="432.5">May</text><text x="0" y="798.5">Jan</text><text x="77.37" y="798.5">Feb</text><text x="147.25" y="798.5">Mar</text><text x="224.62" y="798.5">Apr</text><text x="299.5" y="798.5">May</text></g>
</g>
<g font-size="27.5" text-anchor="middle">
<text x="299.75" y="105">2005</text><text x="659.25" y="105">2006</text><text x="1017.75" y="105">2012</text><text x="1376.35" y="105">2013</text>
<text x="299.75" y="471">2005</text><text x="659.25" y="471">2006</text><text x="1017.75" y="471">2012</text><text x="1376.35" y="471">2013</text>
</g>
<g font-size="24" font-weight="bold">
<text x="153" y="147">(a)</text><text x="512.5" y="147">(b)</text><text x="871" y="147">(c)</text><text x="1229.6" y="147">(d)</text>
<text x="153" y="513">(e)</text><text x="512.5" y="513">(f)</text><text x="871" y="513">(g)</text><text x="1229.6" y="513">(h)</text>
</g>
<g font-size="27.5">
<text x="165.5" y="392.2">CCC</text><text x="525" y="392.2">CCC</text><text x="883.5" y="392.2">CCC</text><text x="1242.1" y="392.2">CCC</text>
<text x="165.5" y="758.2">LDC</text><text x="525" y="758.2">LDC</text><text x="883.5" y="758.2">LDC</text><text x="1242.1" y="758.2">LDC</text>
</g>

<!-- ============ TAYLOR DIAGRAMS ============ -->
<use href="#tbg"/>
<use href="#tbg" x="545.4" y="0.4"/>

<!-- Taylor text (i) -->
<g>
<g font-size="19.5" text-anchor="end" dominant-baseline="central">
<text x="400.5" y="845.35">2.5</text><text x="400.5" y="916.2">2</text><text x="400.5" y="987.05">1.5</text><text x="400.5" y="1057.9">1</text><text x="400.5" y="1128.75">0.5</text>
</g>
<g font-size="19.5" text-anchor="middle" dominant-baseline="central">
<text x="403.8" y="1211.3">0</text>
<text x="481.75" y="1218.6">0.5</text><text x="623.45" y="1218.6">1.5</text><text x="694.3" y="1218.6">2</text><text x="765.15" y="1218.6">2.5</text>
</g>
<g font-size="21" text-anchor="middle" dominant-baseline="central">
<text x="410.9" y="825.5">0</text>
<text transform="translate(486,833) rotate(11.5)">0.2</text>
<text transform="translate(561,856.5) rotate(23.6)">0.4</text>
<text transform="translate(635.5,900) rotate(36.9)">0.6</text>
<text transform="translate(673,932.5) rotate(45.6)">0.7</text>
<text transform="translate(710.5,975) rotate(53.1)">0.8</text>
<text transform="translate(747.5,1036.5) rotate(64.2)">0.9</text>
<text transform="translate(766.5,1083) rotate(71.8)">0.95</text>
<text transform="translate(781.5,1147) rotate(81.9)">0.99</text>
<text transform="translate(785,1199.6) rotate(90)">1</text>
</g>
<g font-size="21" fill="#1212ee" text-anchor="middle" dominant-baseline="central">
<text class="hb" transform="translate(552.6,1169.6)">0.2</text>
<text class="hy" transform="translate(500.5,1173.2) rotate(-63)">0.4</text>
<text class="hy" transform="translate(522,1117.7) rotate(-24)">0.6</text>
<text class="hy" transform="translate(439.2,1189.4) rotate(-84)">0.8</text>
<text class="hy" transform="translate(416.1,1155.7) rotate(-74)">1.0</text>
<text class="hy" transform="translate(439.2,1072.5) rotate(-45)">1.2</text>
<text class="hb" transform="translate(446.7,1030.1) rotate(-35)">1.4</text>
<text class="hb" transform="translate(569.5,971.6) rotate(3)">1.6</text>
<text class="hb" transform="translate(465.2,961.4) rotate(-20)">1.8</text>
<text class="hb" transform="translate(606.3,920.5) rotate(11)">2.0</text>
<text class="hb" transform="translate(478.9,897.1) rotate(-14)">2.2</text>
<text class="hb" transform="translate(463.6,872.3) rotate(-15)">2.4</text>
</g>
<text transform="translate(633.9,1101.7) rotate(50)" font-size="40" fill="#4747ee" text-anchor="middle" dominant-baseline="central">SDE</text>
<text transform="translate(704.4,917.6) rotate(46)" font-size="27.5" text-anchor="middle" dominant-baseline="central">Correlation</text>
<text x="589" y="1249" font-size="26.5" text-anchor="middle">Standardized SD</text>
<text transform="translate(364,1014.5) rotate(-90)" font-size="26.5" text-anchor="middle">Standardized SD</text>
</g>
<text x="325" y="851" font-size="25" font-weight="bold">(i)</text>
<text x="630.7" y="1186.4" font-size="47" textLength="107" lengthAdjust="spacingAndGlyphs" style="font-family:'Liberation Sans',sans-serif">CCC</text>

<!-- Taylor text (j) -->
<g transform="translate(545.4,0.4)">
<g font-size="19.5" text-anchor="end" dominant-baseline="central">
<text x="400.5" y="845.35">2.5</text><text x="400.5" y="916.2">2</text><text x="400.5" y="987.05">1.5</text><text x="400.5" y="1057.9">1</text><text x="400.5" y="1128.75">0.5</text>
</g>
<g font-size="19.5" text-anchor="middle" dominant-baseline="central">
<text x="403.8" y="1211.3">0</text>
<text x="481.75" y="1218.6">0.5</text><text x="623.45" y="1218.6">1.5</text><text x="694.3" y="1218.6">2</text><text x="765.15" y="1218.6">2.5</text>
</g>
<g font-size="21" text-anchor="middle" dominant-baseline="central">
<text x="410.9" y="825.5">0</text>
<text transform="translate(486,833) rotate(11.5)">0.2</text>
<text transform="translate(561,856.5) rotate(23.6)">0.4</text>
<text transform="translate(635.5,900) rotate(36.9)">0.6</text>
<text transform="translate(673,932.5) rotate(45.6)">0.7</text>
<text transform="translate(710.5,975) rotate(53.1)">0.8</text>
<text transform="translate(747.5,1036.5) rotate(64.2)">0.9</text>
<text transform="translate(766.5,1083) rotate(71.8)">0.95</text>
<text transform="translate(781.5,1147) rotate(81.9)">0.99</text>
<text transform="translate(785,1199.6) rotate(90)">1</text>
</g>
<g font-size="21" fill="#1212ee" text-anchor="middle" dominant-baseline="central">
<text class="hb" transform="translate(552.6,1169.6)">0.2</text>
<text class="hy" transform="translate(500.5,1173.2) rotate(-63)">0.4</text>
<text class="hy" transform="translate(522,1117.7) rotate(-24)">0.6</text>
<text class="hy" transform="translate(439.2,1189.4) rotate(-84)">0.8</text>
<text class="hy" transform="translate(416.1,1155.7) rotate(-74)">1.0</text>
<text class="hy" transform="translate(439.2,1072.5) rotate(-45)">1.2</text>
<text class="hb" transform="translate(446.7,1030.1) rotate(-35)">1.4</text>
<text class="hb" transform="translate(569.5,971.6) rotate(3)">1.6</text>
<text class="hb" transform="translate(465.2,961.4) rotate(-20)">1.8</text>
<text class="hb" transform="translate(606.3,920.5) rotate(11)">2.0</text>
<text class="hb" transform="translate(478.9,897.1) rotate(-14)">2.2</text>
<text class="hb" transform="translate(463.6,872.3) rotate(-15)">2.4</text>
</g>
<text transform="translate(633.9,1101.7) rotate(50)" font-size="40" fill="#4747ee" text-anchor="middle" dominant-baseline="central">SDE</text>
<text transform="translate(704.4,917.6) rotate(46)" font-size="27.5" text-anchor="middle" dominant-baseline="central">Correlation</text>
<text x="589" y="1249" font-size="26.5" text-anchor="middle">Standardized SD</text>
<text transform="translate(364,1014.5) rotate(-90)" font-size="26.5" text-anchor="middle">Standardized SD</text>
<text x="327.9" y="851" font-size="25" font-weight="bold">(j)</text>
<text x="643.7" y="1186" font-size="47" textLength="96.6" lengthAdjust="spacingAndGlyphs" style="font-family:'Liberation Sans',sans-serif">LDC</text>
</g>

<!-- markers (i) -->
<g>
<use href="#xm" x="448.3" y="841.5" fill="#e377c2"/>
<circle cx="549.5" cy="905.9" r="11.5" fill="#e377c2"/>
<use href="#xm" x="440.7" y="1014" fill="#d62728"/>
<circle cx="445.2" cy="1069.5" r="11.5" fill="#8c564b"/>
<circle cx="521" cy="1075.3" r="11.5" fill="#d62728"/>
<use href="#xm" x="421.7" y="1100.4" fill="#8c564b"/>
<circle cx="451.4" cy="1128" r="11.5" fill="#9467bd"/>
<circle cx="464.3" cy="1149.3" r="11.5" fill="#2ca02c"/>
<use href="#xm" transform="translate(422.2,1167.4) scale(0.45)" fill="#9467bd"/>
<use href="#xm" transform="translate(430.7,1164.5) scale(0.45)" fill="#9467bd"/>
<path d="M421,1191L430,1183M426,1189L436,1181" stroke="#2ca02c" stroke-width="1.5"/>
<use href="#st" x="552.6" y="1199.6" fill="#000" stroke="#1b3a52" stroke-width="1.5"/>
</g>
<!-- markers (j) -->
<g>
<use href="#xm" x="947.1" y="930.8" fill="#ff7f0e"/>
<circle cx="1060.2" cy="928" r="11.5" fill="#ff7f0e"/>
<use href="#xm" x="1041.7" y="952.6" fill="#8c564b"/>
<circle cx="1000.6" cy="1106.9" r="11.5" fill="#1f77b4"/>
<use href="#xm" transform="translate(1034.2,1109.7) scale(0.75)" fill="#1f77b4"/>
<circle cx="1019.5" cy="1106.9" r="11.5" fill="#8c564b"/>
<circle cx="1050.4" cy="1105.3" r="11.5" fill="#d62728"/>
<use href="#xm" x="964.8" y="1120" fill="#9467bd"/>
<use href="#xm" x="1018.9" y="1131.6" fill="#2ca02c"/>
<circle cx="973.2" cy="1159.2" r="11.5" fill="#9467bd"/>
<circle cx="1037.2" cy="1157.8" r="11.5" fill="#2ca02c"/>
<use href="#st" x="1096.6" y="1200" fill="#000" stroke="#1b3a52" stroke-width="1.5"/>
</g>

<!-- left boxes -->
<rect x="131.2" y="1106.4" width="184.3" height="41.4" fill="#d4eaf6" stroke="#dedede" stroke-width="2.2"/>
<text x="223.3" y="1136.8" font-size="21.5" text-anchor="middle">Overestimation</text>
<rect x="131.2" y="1152.6" width="184.3" height="39.4" fill="#fffde6" stroke="#dedede" stroke-width="2.2"/>
<text x="223.3" y="1179.6" font-size="21.5" text-anchor="middle">Underestimation</text>

<!-- right legend -->
<rect x="1371.6" y="868" width="158.3" height="315.7" rx="4" fill="#fff" stroke="#d0d0d0" stroke-width="1.4"/>
<rect x="1393.8" y="876.85" width="21.5" height="21.5" fill="#1f77b4"/>
<rect x="1393.8" y="911.15" width="21.5" height="21.5" fill="#ff7f0e"/>
<rect x="1393.8" y="945.45" width="21.5" height="21.5" fill="#2ca02c"/>
<rect x="1393.8" y="979.65" width="21.5" height="21.5" fill="#d62728"/>
<rect x="1393.8" y="1013.85" width="21.5" height="21.5" fill="#9467bd"/>
<rect x="1393.8" y="1048.15" width="21.5" height="21.5" fill="#8c564b"/>
<rect x="1393.8" y="1082.35" width="21.5" height="21.5" fill="#e377c2"/>
<circle cx="1404.5" cy="1127.4" r="10" fill="none" stroke="#000" stroke-width="1.8"/>
<use href="#xm" transform="translate(1404.5,1161.7) scale(0.8)" fill="#fff" stroke="#000" stroke-width="2"/>
<g font-size="22.4">
<text x="1448.1" y="895.8">1999</text>
<text x="1448.1" y="930.1">2000</text>
<text x="1448.1" y="964.4">2005</text>
<text x="1448.1" y="998.6">2006</text>
<text x="1448.1" y="1032.8">2012</text>
<text x="1448.1" y="1067.1">2013</text>
<text x="1448.1" y="1101.3">2018</text>
<text x="1448.1" y="1135.6">θ</text>
<text x="1448.1" y="1169.9">Speed</text>
</g>
</svg>
</body></html>
